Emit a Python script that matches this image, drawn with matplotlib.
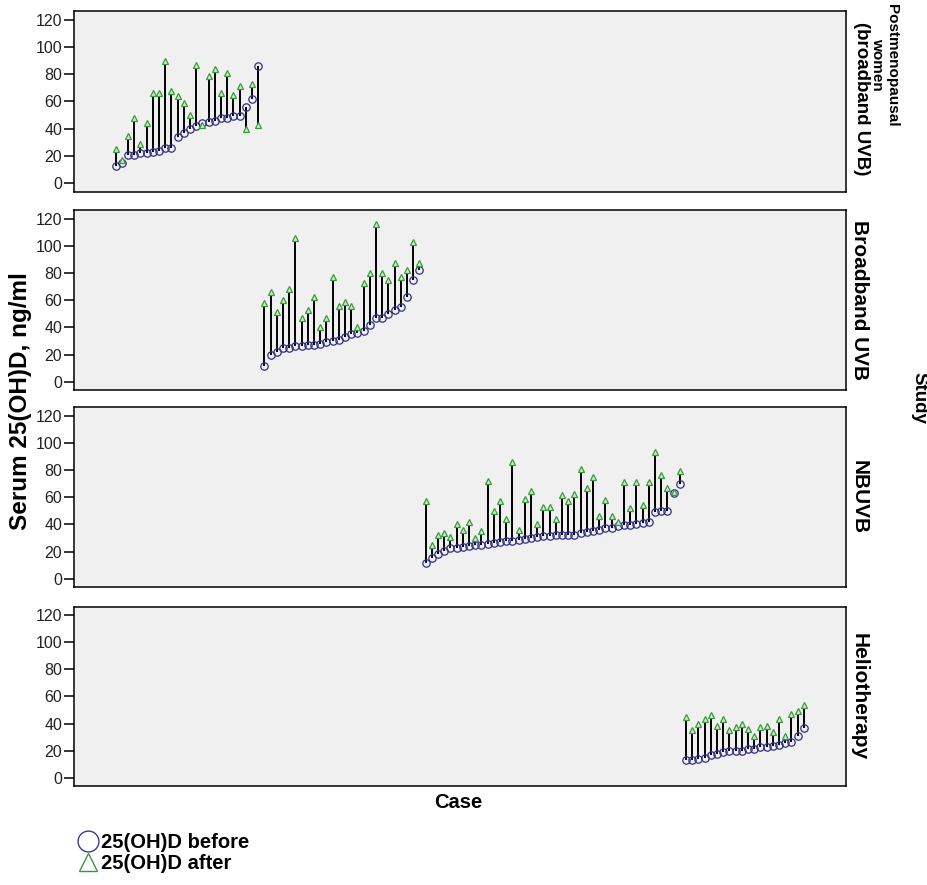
import numpy as np
import matplotlib
matplotlib.use('Agg')
import matplotlib.pyplot as plt
from matplotlib.lines import Line2D

# study names (right side strip labels)
studies = ['Postmenopausal\nwomen\n(broadband UVB)', 'Broadband UVB', 'NBUVB', 'Heliotherapy']

# serum 25(OH)D, ng/ml, per study, cases sorted by "before"
pm_before = [13, 15, 21, 21, 22, 22, 23, 24, 26, 26, 34, 37, 40, 42, 44, 45, 46, 48, 48, 49, 49, 56, 62, 86]
pm_after = [25, 17, 35, 48, 29, 44, 66, 66, 90, 68, 64, 59, 50, 87, 43, 79, 84, 66, 81, 65, 71, 40, 73, 43]

bb_before = [12, 20, 22, 25, 25, 26, 26, 27, 27, 28, 29, 30, 31, 33, 35, 36, 37, 42, 47, 47, 50, 53, 55, 62, 75, 82]
bb_after = [58, 66, 51, 60, 68, 106, 47, 53, 62, 40, 47, 77, 56, 59, 56, 40, 73, 80, 116, 80, 75, 87, 77, 82, 103, 87]

nb_before = [12, 15.5, 18, 20.4, 22.3, 22.7, 23.3, 24, 24.7, 25.2, 25.5, 26.4, 27, 27.6, 28, 28.5, 29.5, 30, 30.5, 31.3, 31.5,
             32, 32, 32.5, 32.5, 33.7, 34.3, 35.4, 36, 37, 37.5, 38.5, 39.3, 39.8, 40.2, 41, 42, 49, 49.5, 49.5, 63, 70]
nb_after = [57, 25, 32.5, 34, 30.5, 40, 36, 42, 30, 35, 72, 50, 57, 44, 86, 36, 59, 64.5, 40, 52.5, 53,
            44, 61.5, 57, 62, 80.5, 67, 74.5, 46.5, 58, 46, 42, 71, 52, 71, 54, 71, 93, 76, 67, 64, 79]

he_before = [13, 13, 14, 14.5, 16.5, 17.5, 19, 19.5, 19.5, 20, 21, 21.5, 22.5, 22.5, 23.5, 24.5, 26, 26.5, 30.5, 37]
he_after = [45, 35, 40, 43.5, 46, 38.5, 43.5, 35, 37.5, 39.5, 36, 31, 37.5, 38.5, 34, 43.5, 31, 47, 49.5, 54]

yticks = [0, 20, 40, 60, 80, 100, 120]

befores = [pm_before, bb_before, nb_before, he_before]
afters = [pm_after, bb_after, nb_after, he_after]

fam = ['Liberation Sans', 'DejaVu Sans']

W, H = 928, 885
fig = plt.figure(figsize=(W / 100, H / 100), dpi=100)

# panel pixel extents (top, bottom)
panels = [(11, 191.5), (210, 390), (407, 587), (606.5, 786)]
left, right = 74, 846

n_total = sum(len(b) for b in befores)
start = 1
for k, (top, bot) in enumerate(panels):
    ax = fig.add_axes([left / W, 1 - bot / H, (right - left) / W, (bot - top) / H])
    ax.set_facecolor('#f0f0f0')
    b = befores[k]
    a = afters[k]
    case = np.arange(start, start + len(b))
    start += len(b)
    ax.vlines(case, b, a, color='black', lw=1.4, zorder=2)
    ax.plot(case, b, ls='none', marker='o', ms=5.3, mfc='none', mec='#2e2e86', mew=0.9, zorder=3)
    ax.plot(case, a, ls='none', marker='^', ms=4.5, mfc='#cfe8cf', mec='#3a9a3a', mew=0.9, zorder=4)
    ax.set_xlim(-5.7, n_total + 6.8)
    ax.set_ylim(-6, 126.3)
    ax.set_xticks([])
    ax.set_yticks(yticks)
    for lab in ax.get_yticklabels():
        lab.set_family(fam)
        lab.set_fontsize(11.5)
        lab.set_color('#222222')
    ax.tick_params(axis='y', length=7, width=1.1, pad=1.5)
    for sp in ax.spines.values():
        sp.set_linewidth(1.1)
    if k == 0:
        # SPSS wraps this long name over three lines, not centred together
        l1, l2, l3 = studies[k].split('\n')
        for txt, xc, yc, fs in [(l1, 892, 65, 11), (l2, 877, 64, 11), (l3, 862, 99, 13.5)]:
            fig.text(xc / W, 1 - yc / H, txt, rotation=270, ha='center', va='center',
                     fontsize=fs, fontweight='bold', family=fam)
    else:
        ax.text(1.005, 0.5, studies[k], transform=ax.transAxes, rotation=270, ha='left', va='center',
                fontsize=15, fontweight='bold', family=fam)

fig.text(21 / W, 1 - 401 / H, 'Serum 25(OH)D, ng/ml', rotation=90, ha='center', va='center',
         fontsize=17.5, fontweight='bold', family=fam)
fig.text(919 / W, 1 - 398 / H, 'Study', rotation=270, ha='center', va='center',
         fontsize=13.5, fontweight='bold', family=fam)
fig.text(458 / W, 1 - 803 / H, 'Case', ha='center', va='center',
         fontsize=14.5, fontweight='bold', family=fam)

handles = [Line2D([], [], ls='none', marker='o', ms=15, mfc='none', mec='#3a3a8e', mew=1.0),
           Line2D([], [], ls='none', marker='^', ms=13.5, mfc='none', mec='#3a9a3a', mew=1.0)]
fig.legend(handles, ['25(OH)D before', '25(OH)D after'], loc='upper left',
           bbox_to_anchor=(78 / W, 1 - 833 / H), frameon=False, handlelength=1.0,
           handletextpad=0.15, borderpad=0, borderaxespad=0, labelspacing=0.1,
           prop={'family': fam, 'size': 14.5, 'weight': 'bold'})

fig.savefig('out.png', dpi=100, facecolor='white')
